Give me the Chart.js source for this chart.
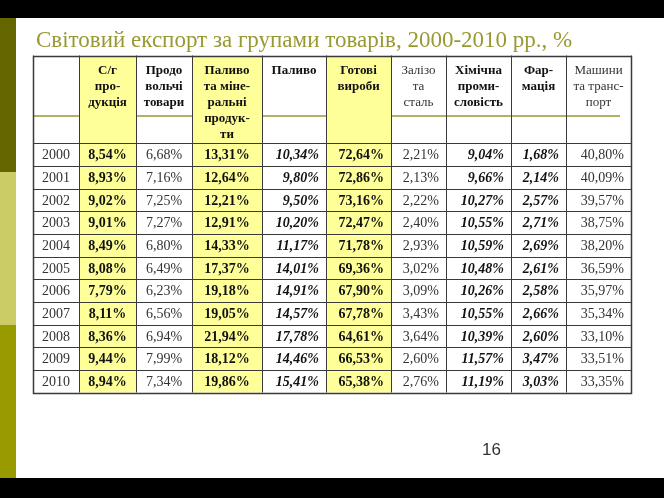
<!DOCTYPE html>
<html>
<head>
<meta charset="utf-8">
<script src="https://cdn.jsdelivr.net/npm/chart.js@4.4.1/dist/chart.umd.min.js"></script>
<style>
  body { margin: 0; background: #fff; }
  canvas { display: block; }
</style>
</head>
<body>
<canvas id="c" width="664" height="498"></canvas>
<script>
// дані таблиці
const years = ['2000', '2001', '2002', '2003', '2004', '2005', '2006', '2007', '2008', '2009', '2010'];
const headers = [
    [],
    ['С/г', 'про-', 'дукція'],
    ['Продо', 'вольчі', 'товари'],
    ['Паливо', 'та міне-', 'ральні', 'продук-', 'ти'],
    ['Паливо'],
    ['Готові', 'вироби'],
    ['Залізо', 'та', 'сталь'],
    ['Хімічна', 'проми-', 'словість'],
    ['Фар-', 'мація'],
    ['Машини', 'та транс-', 'порт']
];
const agri = [8.54, 8.93, 9.02, 9.01, 8.49, 8.08, 7.79, 8.11, 8.36, 9.44, 8.94];
const food = [6.68, 7.16, 7.25, 7.27, 6.80, 6.49, 6.23, 6.56, 6.94, 7.99, 7.34];
const fuelMin = [13.31, 12.64, 12.21, 12.91, 14.33, 17.37, 19.18, 19.05, 21.94, 18.12, 19.86];
const fuel = [10.34, 9.80, 9.50, 10.20, 11.17, 14.01, 14.91, 14.57, 17.78, 14.46, 15.41];
const manuf = [72.64, 72.86, 73.16, 72.47, 71.78, 69.36, 67.90, 67.78, 64.61, 66.53, 65.38];
const iron = [2.21, 2.13, 2.22, 2.40, 2.93, 3.02, 3.09, 3.43, 3.64, 2.60, 2.76];
const chem = [9.04, 9.66, 10.27, 10.55, 10.59, 10.48, 10.26, 10.55, 10.39, 11.57, 11.19];
const pharma = [1.68, 2.14, 2.57, 2.71, 2.69, 2.61, 2.58, 2.66, 2.60, 3.47, 3.03];
const mach = [40.80, 40.09, 39.57, 38.75, 38.20, 36.59, 35.97, 35.34, 33.10, 33.51, 33.35];
const series = [agri, food, fuelMin, fuel, manuf, iron, chem, pharma, mach];

// розмітка
const colEdges = [0, 46, 103, 159, 229, 293, 358, 413, 478, 533, 598];
const headH = 88, subLine = 60.5, rowH = 22.64;
const yellowCols = [1, 3, 5];
const headBold = [false, true, true, true, true, true, false, true, true, false];
const cellFont = ['', 'bold ', '', 'bold ', 'italic bold ', 'bold ', '', 'italic bold ', 'italic bold ', ''];
const cellAlign = ['center', 'center', 'center', 'center', 'right', 'right', 'right', 'right', 'right', 'right'];
const SERIF = '"Liberation Serif", "Times New Roman", serif';

function fmt(v) {
    return v.toFixed(2).replace('.', ',') + '%';
}

let datasets = [];
datasets.push({
    label: 'Рік',
    data: years.map((y, i) => ({ x: (colEdges[0] + colEdges[1]) / 2, y: headH + (i + 0.5) * rowH, t: y })),
    pointRadius: 0
});
series.forEach((s, c) => {
    datasets.push({
        label: headers[c + 1].join(' '),
        data: s.map((v, i) => ({ x: (colEdges[c + 1] + colEdges[c + 2]) / 2, y: headH + (i + 0.5) * rowH, t: fmt(v) })),
        pointRadius: 0
    });
});

const tablePlugin = {
    id: 'table',
    beforeDraw(chart) {
        const ctx = chart.ctx;
        const xs = chart.scales.x, ys = chart.scales.y;
        const X = v => xs.getPixelForValue(v);
        const Y = v => ys.getPixelForValue(v);
        const W = chart.width, H = chart.height;
        const x0 = X(0), x1 = X(colEdges[colEdges.length - 1]);
        const y0 = Y(0), y1 = Y(headH + years.length * rowH);

        ctx.save();
        // фон слайда
        ctx.fillStyle = '#fff';
        ctx.fillRect(0, 0, W, H);
        ctx.fillStyle = '#000';
        ctx.fillRect(0, 0, W, 18);
        ctx.fillRect(0, 478, W, H - 478);
        ctx.fillStyle = '#666600';
        ctx.fillRect(0, 18, 16, 154);
        ctx.fillStyle = '#cccc66';
        ctx.fillRect(0, 172, 16, 153);
        ctx.fillStyle = '#999900';
        ctx.fillRect(0, 325, 16, 153);

        // заголовок
        ctx.fillStyle = '#999933';
        ctx.font = '23px ' + SERIF;
        ctx.textBaseline = 'alphabetic';
        ctx.textAlign = 'left';
        ctx.fillText('Світовий експорт за групами товарів, 2000-2010 рр., %', 36, 47);

        // лінія-декор
        ctx.strokeStyle = '#999933';
        ctx.lineWidth = 1.5;
        ctx.beginPath();
        ctx.moveTo(x0, Y(subLine));
        ctx.lineTo(620, Y(subLine));
        ctx.stroke();

        // жовті стовпці
        ctx.fillStyle = '#ffff99';
        yellowCols.forEach(c => {
            ctx.fillRect(X(colEdges[c]), y0, X(colEdges[c + 1]) - X(colEdges[c]), y1 - y0);
        });

        // сітка
        ctx.strokeStyle = '#3a3a3a';
        ctx.lineWidth = 1;
        ctx.beginPath();
        for (let i = 0; i <= years.length; i++) {
            const y = Math.round(Y(headH + i * rowH)) + 0.5;
            ctx.moveTo(x0, y);
            ctx.lineTo(x1, y);
        }
        colEdges.forEach(e => {
            const x = Math.round(X(e)) + 0.5;
            ctx.moveTo(x, y0);
            ctx.lineTo(x, y1);
        });
        ctx.stroke();
        ctx.lineWidth = 1.5;
        ctx.strokeRect(Math.round(x0) + 0.5, Math.round(y0) + 0.5, Math.round(x1 - x0), Math.round(y1 - y0));

        // шапка
        ctx.textAlign = 'center';
        headers.forEach((lines, c) => {
            const cx = (X(colEdges[c]) + X(colEdges[c + 1])) / 2;
            ctx.font = (headBold[c] ? 'bold ' : '') + '13px ' + SERIF;
            ctx.fillStyle = headBold[c] ? '#111' : '#333';
            lines.forEach((l, k) => {
                ctx.fillText(l, cx, y0 + 18 + k * 16);
            });
        });

        // номер слайда
        ctx.fillStyle = '#333';
        ctx.font = '17px "Liberation Sans", Arial, sans-serif';
        ctx.textAlign = 'left';
        ctx.fillText('16', 482, 455);
        ctx.restore();
    },
    afterDatasetsDraw(chart) {
        const ctx = chart.ctx;
        const xs = chart.scales.x;
        ctx.save();
        ctx.textBaseline = 'middle';
        chart.data.datasets.forEach((ds, c) => {
            const meta = chart.getDatasetMeta(c);
            ctx.font = cellFont[c] + '14px ' + SERIF;
            ctx.fillStyle = cellFont[c] ? '#111' : '#333';
            ctx.textAlign = cellAlign[c];
            meta.data.forEach((pt, i) => {
                let x = pt.x;
                if (cellAlign[c] === 'right') x = xs.getPixelForValue(colEdges[c + 1]) - 7;
                ctx.fillText(ds.data[i].t, x, pt.y + 1);
            });
        });
        ctx.restore();
    }
};

new Chart(document.getElementById('c'), {
    type: 'scatter',
    data: { datasets: datasets },
    options: {
        responsive: false,
        devicePixelRatio: 1,
        animation: false,
        layout: { padding: { left: 33, top: 55.5, right: 33, bottom: 105.5 } },
        plugins: { legend: { display: false }, tooltip: { enabled: false }, title: { display: false } },
        events: [],
        scales: {
            x: { type: 'linear', display: false, min: 0, max: colEdges[colEdges.length - 1] },
            y: { type: 'linear', display: false, reverse: true, min: 0, max: headH + years.length * rowH }
        }
    },
    plugins: [tablePlugin]
});
</script>
</body>
</html>
